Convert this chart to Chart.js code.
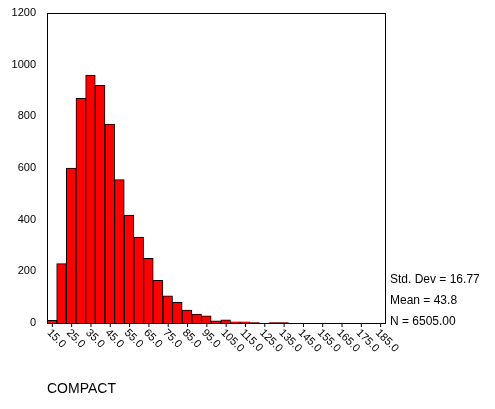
<!DOCTYPE html>
<html>
<head>
<script src="https://cdn.jsdelivr.net/npm/chart.js@4"></script>
<style>
body { margin: 0; background: #fff; }
#wrap { width: 495px; height: 409px; position: relative; }
</style>
</head>
<body>
<div id="wrap"><canvas id="myChart"></canvas></div>
<script>
// bin midpoints (width 5) and counts
var binLabels = [];
for (var b = 15; b <= 185; b += 5) binLabels.push(b.toFixed(1));
var counts = [10, 230, 600, 870, 960, 920, 770, 555, 418, 333, 250, 165, 105, 80, 50, 35, 28, 8, 12, 5, 5, 2, 0, 2, 2,
    0, 0, 0, 0, 0, 0, 0, 0, 0, 0];
var statLines = ["Std. Dev = 16.77", "Mean = 43.8", "N = 6505.00"];
var axisTitle = "COMPACT";

var extras = {
    id: 'extras',
    afterDraw: function (chart) {
        var ctx = chart.ctx;
        var a = chart.chartArea;
        var xs = chart.scales.x;
        ctx.save();
        ctx.strokeStyle = "#000";
        ctx.lineWidth = 1;
        ctx.strokeRect(a.left + 0.5, a.top + 0.5, a.right - a.left, a.bottom - a.top);
        // rotated tick labels, every other bin
        ctx.font = "11px Arial";
        ctx.fillStyle = "#000";
        ctx.textAlign = "left";
        ctx.textBaseline = "middle";
        for (var i = 0; i < binLabels.length; i += 2) {
            var px = xs.getPixelForValue(i);
            ctx.beginPath();
            ctx.moveTo(px + 0.5, a.bottom);
            ctx.lineTo(px + 0.5, a.bottom + 4);
            ctx.stroke();
            ctx.save();
            ctx.translate(px - 3, a.bottom + 8);
            ctx.rotate(Math.PI / 4);
            ctx.fillText(binLabels[i], 0, 0);
            ctx.restore();
        }
        ctx.font = "12px Arial";
        for (var k = 0; k < statLines.length; k++) {
            ctx.fillText(statLines[k], a.right + 5, 280 + k * 21);
        }
        ctx.font = "14px Arial";
        ctx.fillText(axisTitle, 47, 389);
        ctx.restore();
    }
};

var ctx = document.getElementById('myChart').getContext('2d');
var chart = new Chart(ctx, {
    type: 'bar',
    data: {
        labels: binLabels,
        datasets: [{
            data: counts,
            backgroundColor: '#ff0000',
            borderColor: '#000',
            borderWidth: 1,
            barPercentage: 1,
            categoryPercentage: 1
        }]
    },
    options: {
        animation: false,
        responsive: true,
        maintainAspectRatio: false,
        layout: { padding: { top: 13, right: 110, bottom: 86, left: 0 } },
        plugins: { legend: { display: false }, tooltip: { enabled: false } },
        scales: {
            x: {
                grid: { display: false },
                border: { display: false },
                ticks: { display: false },
                afterFit: function (s) { s.height = 0; }
            },
            y: {
                min: 0,
                max: 1200,
                afterFit: function (s) { s.width = 47; },
                ticks: {
                    stepSize: 200, color: '#000', font: { family: 'Arial', size: 11 },
                    callback: function (v) { return String(v); }
                },
                grid: { display: false, drawTicks: true },
                border: { display: true, color: '#000' }
            }
        }
    },
    plugins: [extras]
});
</script>
</body>
</html>
